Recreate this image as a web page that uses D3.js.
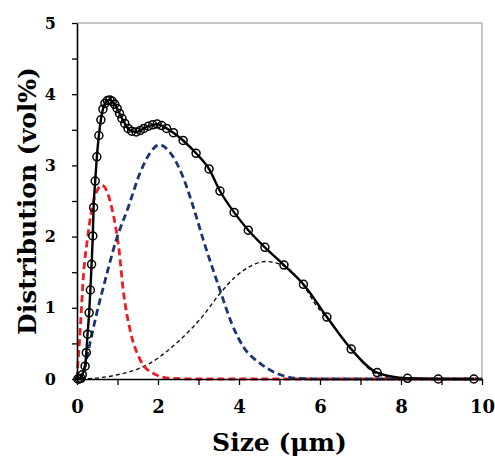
<!DOCTYPE html>
<html>
<head>
<meta charset="utf-8">
<script src="https://d3js.org/d3.v7.min.js"></script>
<style>
  body { margin: 0; background: #fff; }
  text { font-family: "DejaVu Serif", serif; font-weight: bold; }
</style>
</head>
<body>
<div id="chart"></div>
<script>
// measured distribution (open circles + solid line)
var sizeMeasured = [0.02, 0.06, 0.10, 0.13, 0.20, 0.23, 0.26, 0.30, 0.33, 0.36, 0.39, 0.41, 0.45,
  0.49, 0.54, 0.59, 0.64, 0.69, 0.75, 0.81, 0.87, 0.93, 0.99, 1.05, 1.11, 1.18, 1.26, 1.35,
  1.46, 1.56, 1.65, 1.76, 1.87, 1.98, 2.09, 2.21, 2.38, 2.62, 2.94, 3.26, 3.53, 3.88, 4.23,
  4.64, 5.11, 5.59, 6.17, 6.77, 7.41, 8.16, 8.92, 9.80];
var volMeasured = [0, 0, 0.01, 0.06, 0.18, 0.37, 0.63, 0.93, 1.25, 1.61, 2.01, 2.41, 2.78,
  3.12, 3.42, 3.64, 3.79, 3.87, 3.91, 3.92, 3.90, 3.86, 3.80, 3.73, 3.66, 3.59, 3.52, 3.48,
  3.47, 3.49, 3.52, 3.55, 3.57, 3.58, 3.56, 3.52, 3.46, 3.35, 3.17, 2.95, 2.64, 2.34, 2.09,
  1.85, 1.60, 1.33, 0.87, 0.42, 0.09, 0.01, 0, 0];

// fitted component 1 (red dashed)
var sizeRed = [0, 0.02, 0.06, 0.11, 0.16, 0.25, 0.37, 0.50, 0.62, 0.75, 0.86, 0.95, 1.03,
  1.14, 1.31, 1.56, 1.88, 2.3, 3, 4, 5, 6, 7, 8, 9, 10];
var volRed = [0, 0.20, 0.52, 0.99, 1.46, 1.93, 2.40, 2.65, 2.72, 2.62, 2.40, 2.15, 1.85,
  1.25, 0.69, 0.27, 0.08, 0.01, 0, 0, 0, 0, 0, 0, 0, 0];

// fitted component 2 (blue dashed)
var sizeBlue = [0.05, 0.10, 0.16, 0.30, 0.49, 0.72, 0.95, 1.27, 1.56, 1.80, 2.03, 2.30,
  2.58, 2.87, 3.12, 3.53, 3.82, 4.11, 4.52, 4.93, 5.42, 6, 7, 8, 9, 10];
var volBlue = [0, 0.02, 0.10, 0.45, 0.93, 1.44, 1.92, 2.42, 2.90, 3.17, 3.29, 3.18,
  2.89, 2.42, 1.95, 1.25, 0.78, 0.45, 0.22, 0.08, 0.01, 0, 0, 0, 0, 0];

// fitted component 3 (thin black dashed)
var sizeBlack = [0.1, 0.3, 0.6, 1.0, 1.5, 1.8, 2.2, 2.6, 3.1, 3.5, 3.9, 4.3, 4.65, 5.1,
  5.6, 5.9, 6.2, 6.8, 7.4, 8.0, 8.5];
var volBlack = [0, 0.005, 0.02, 0.06, 0.14, 0.22, 0.38, 0.58, 0.88, 1.18, 1.43, 1.59, 1.65,
  1.59, 1.31, 1.04, 0.84, 0.40, 0.07, 0.0, 0];

var xTicks = [0, 1, 2, 3, 4, 5, 6, 7, 8, 9, 10];
var yTicks = [0, 0.5, 1, 1.5, 2, 2.5, 3, 3.5, 4, 4.5, 5];

// set the dimensions and margins of the graph
var margin = {top: 23, right: 13, bottom: 80, left: 77},
    width = 495 - margin.left - margin.right,
    height = 459 - margin.top - margin.bottom;

var x = d3.scaleLinear().domain([0, 10]).range([0, width]);
var y = d3.scaleLinear().domain([0, 5]).range([height, 0]);

function toPoints(xs, ys) {
  return xs.map(function(d, i) { return {size: d, vol: ys[i]}; });
}

var line = d3.line()
    .x(function(d) { return x(d.size); })
    .y(function(d) { return y(d.vol); })
    .curve(d3.curveMonotoneX);

var svg = d3.select("#chart").append("svg")
    .attr("width", 495)
    .attr("height", 459)
  .append("g")
    .attr("transform", "translate(" + margin.left + "," + margin.top + ")");

// gray frame on top and right
svg.append("line")
    .attr("x1", 0).attr("x2", width)
    .attr("y1", 0).attr("y2", 0)
    .attr("stroke", "#8c8c8c").attr("stroke-width", 1);
svg.append("line")
    .attr("x1", width).attr("x2", width)
    .attr("y1", 0).attr("y2", height)
    .attr("stroke", "#8c8c8c").attr("stroke-width", 1);

// component curves
svg.append("path")
    .datum(toPoints(sizeBlack, volBlack))
    .attr("fill", "none")
    .attr("stroke", "#111")
    .attr("stroke-width", 1.4)
    .attr("stroke-dasharray", "4,3")
    .attr("d", line);

svg.append("path")
    .datum(toPoints(sizeRed, volRed))
    .attr("fill", "none")
    .attr("stroke", "#ee1c25")
    .attr("stroke-width", 2.8)
    .attr("stroke-dasharray", "7,4")
    .attr("d", line);

svg.append("path")
    .datum(toPoints(sizeBlue, volBlue))
    .attr("fill", "none")
    .attr("stroke", "#1c3570")
    .attr("stroke-width", 2.8)
    .attr("stroke-dasharray", "7,4")
    .attr("d", line);

// X axis
var xAxis = svg.append("g")
    .attr("transform", "translate(0," + height + ")")
    .call(d3.axisBottom(x)
      .tickValues(xTicks)
      .tickSize(6)
      .tickSizeOuter(0)
      .tickFormat(function(d) { return d % 2 === 0 ? d : ""; }));
xAxis.select(".domain").attr("stroke", "#000").attr("stroke-width", 1.6);
xAxis.selectAll(".tick line").attr("stroke", "#000").attr("stroke-width", 1.3);
xAxis.selectAll(".tick text")
    .attr("y", 34)
    .attr("dy", 0)
    .attr("fill", "#000")
    .style("font-size", "18px");

// Y axis
var yAxis = svg.append("g")
    .call(d3.axisLeft(y)
      .tickValues(yTicks)
      .tickSize(5)
      .tickSizeOuter(0)
      .tickFormat(function(d) { return d % 1 === 0 ? d : ""; }));
yAxis.select(".domain").attr("stroke", "#000").attr("stroke-width", 1.6);
yAxis.selectAll(".tick line").attr("stroke", "#000").attr("stroke-width", 1.3);
yAxis.selectAll(".tick text")
    .attr("x", -21)
    .attr("fill", "#000")
    .style("font-size", "16px");

// measured line + markers
var measured = toPoints(sizeMeasured, volMeasured);
svg.append("path")
    .datum(measured)
    .attr("fill", "none")
    .attr("stroke", "#000")
    .attr("stroke-width", 2.4)
    .attr("d", line);

svg.selectAll(".pt")
    .data(measured)
  .enter().append("circle")
    .attr("class", "pt")
    .attr("cx", function(d) { return x(d.size); })
    .attr("cy", function(d) { return y(d.vol); })
    .attr("r", 4)
    .attr("fill", "none")
    .attr("stroke", "#000")
    .attr("stroke-width", 1.5);

// axis titles
svg.append("text")
    .attr("x", width / 2)
    .attr("y", height + 72)
    .attr("text-anchor", "middle")
    .style("font-size", "25px")
    .text("Size (μm)");

svg.append("text")
    .attr("transform", "translate(" + (36 - margin.left) + "," + (height / 2) + ") rotate(-90)")
    .attr("text-anchor", "middle")
    .style("font-size", "25px")
    .text("Distribution (vol%)");
</script>
</body>
</html>
